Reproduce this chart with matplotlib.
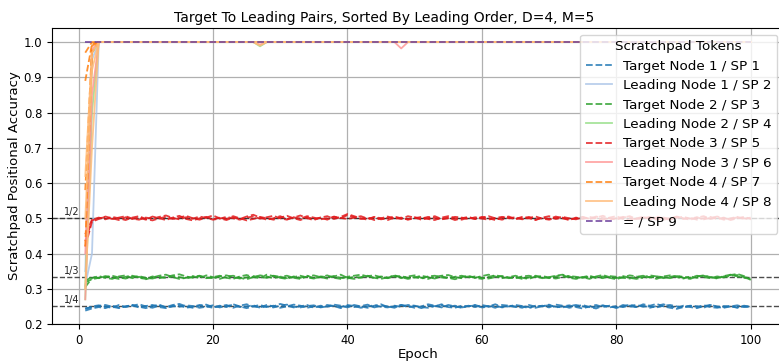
import numpy as np
import matplotlib
matplotlib.use("Agg")
import matplotlib.pyplot as plt

title = "Target To Leading Pairs, Sorted By Leading Order, D=4, M=5"
legend_title = "Scratchpad Tokens"
labels = ["Target Node 1 / SP 1", "Leading Node 1 / SP 2", "Target Node 2 / SP 3",
          "Leading Node 2 / SP 4", "Target Node 3 / SP 5", "Leading Node 3 / SP 6",
          "Target Node 4 / SP 7", "Leading Node 4 / SP 8", "= / SP 9"]
colors = ["#1f77b4", "#aec7e8", "#2ca02c", "#98df8a", "#e31a1c", "#ff9896",
          "#ff7f0e", "#ffbb78", "#6a3d9a"]
styles = ["--", "-", "--", "-", "--", "-", "--", "-", "--"]
ref_levels = [0.25, 1/3, 0.5]
ref_labels = ["1/4", "1/3", "1/2"]

blue_a = [0.238, 0.244, 0.248, 0.245, 0.252, 0.247, 0.250, 0.254, 0.249, 0.245,
          0.251, 0.255, 0.247, 0.250, 0.253, 0.246, 0.249, 0.254, 0.250, 0.246,
          0.252, 0.248, 0.256, 0.250, 0.245, 0.250, 0.254, 0.248, 0.252, 0.246,
          0.250, 0.255, 0.252, 0.246, 0.250, 0.248, 0.254, 0.251, 0.245, 0.252,
          0.248, 0.251, 0.255, 0.247, 0.252, 0.250, 0.246, 0.254, 0.248, 0.251,
          0.245, 0.252, 0.250, 0.256, 0.248, 0.246, 0.252, 0.250, 0.254, 0.248,
          0.251, 0.246, 0.254, 0.252, 0.248, 0.250, 0.245, 0.252, 0.250, 0.255,
          0.247, 0.250, 0.253, 0.248, 0.244, 0.250, 0.254, 0.248, 0.252, 0.246,
          0.250, 0.255, 0.248, 0.252, 0.246, 0.251, 0.256, 0.250, 0.246, 0.252,
          0.248, 0.245, 0.251, 0.254, 0.248, 0.246, 0.250, 0.253, 0.248, 0.250]
blue_b = [0.242, 0.250, 0.253, 0.249, 0.246, 0.254, 0.248, 0.252, 0.256, 0.250,
          0.246, 0.252, 0.248, 0.254, 0.257, 0.250, 0.246, 0.252, 0.255, 0.248,
          0.250, 0.254, 0.246, 0.252, 0.256, 0.250, 0.247, 0.254, 0.250, 0.257,
          0.252, 0.247, 0.250, 0.254, 0.246, 0.252, 0.249, 0.255, 0.252, 0.247,
          0.254, 0.250, 0.246, 0.252, 0.256, 0.248, 0.250, 0.254, 0.251, 0.246,
          0.250, 0.256, 0.252, 0.247, 0.254, 0.250, 0.246, 0.252, 0.248, 0.254,
          0.250, 0.256, 0.248, 0.252, 0.250, 0.246, 0.254, 0.249, 0.252, 0.247,
          0.255, 0.252, 0.246, 0.250, 0.254, 0.248, 0.244, 0.252, 0.250, 0.246,
          0.254, 0.250, 0.248, 0.256, 0.252, 0.257, 0.250, 0.246, 0.243, 0.248,
          0.252, 0.250, 0.246, 0.254, 0.250, 0.248, 0.252, 0.246, 0.250, 0.248]
blue_c = [0.245, 0.247, 0.251, 0.254, 0.249, 0.245, 0.250, 0.253, 0.247, 0.251,
          0.254, 0.248, 0.245, 0.251, 0.249, 0.253, 0.251, 0.246, 0.249, 0.253,
          0.247, 0.251, 0.254, 0.248, 0.250, 0.253, 0.246, 0.250, 0.247, 0.252,
          0.255, 0.249, 0.247, 0.251, 0.253, 0.247, 0.250, 0.252, 0.248, 0.254,
          0.251, 0.246, 0.250, 0.253, 0.249, 0.247, 0.252, 0.249, 0.254, 0.252,
          0.248, 0.246, 0.251, 0.253, 0.249, 0.252, 0.247, 0.250, 0.253, 0.247,
          0.249, 0.252, 0.247, 0.250, 0.254, 0.251, 0.248, 0.246, 0.251, 0.253,
          0.249, 0.247, 0.251, 0.254, 0.250, 0.247, 0.249, 0.253, 0.247, 0.251,
          0.248, 0.252, 0.254, 0.249, 0.250, 0.247, 0.252, 0.254, 0.250, 0.247,
          0.251, 0.249, 0.253, 0.248, 0.246, 0.251, 0.249, 0.247, 0.252, 0.249]
green_a = [0.305, 0.330, 0.336, 0.331, 0.328, 0.335, 0.338, 0.330, 0.334, 0.327,
           0.332, 0.337, 0.340, 0.333, 0.328, 0.331, 0.336, 0.330, 0.338, 0.333,
           0.328, 0.334, 0.337, 0.331, 0.327, 0.333, 0.338, 0.335, 0.330, 0.334,
           0.337, 0.331, 0.328, 0.335, 0.338, 0.333, 0.329, 0.335, 0.340, 0.331,
           0.328, 0.333, 0.337, 0.330, 0.335, 0.331, 0.338, 0.333, 0.328, 0.332,
           0.337, 0.333, 0.329, 0.335, 0.331, 0.327, 0.333, 0.337, 0.331, 0.328,
           0.334, 0.338, 0.335, 0.330, 0.333, 0.328, 0.332, 0.337, 0.333, 0.330,
           0.335, 0.339, 0.331, 0.328, 0.333, 0.337, 0.330, 0.335, 0.331, 0.327,
           0.333, 0.338, 0.335, 0.330, 0.334, 0.328, 0.335, 0.338, 0.333, 0.329,
           0.335, 0.331, 0.337, 0.333, 0.329, 0.335, 0.339, 0.342, 0.336, 0.325]
green_b = [0.318, 0.327, 0.331, 0.336, 0.332, 0.328, 0.334, 0.337, 0.331, 0.328,
           0.335, 0.330, 0.333, 0.338, 0.341, 0.335, 0.331, 0.336, 0.330, 0.333,
           0.337, 0.331, 0.328, 0.335, 0.339, 0.333, 0.330, 0.340, 0.336, 0.331,
           0.328, 0.335, 0.331, 0.337, 0.330, 0.333, 0.338, 0.331, 0.328, 0.334,
           0.337, 0.340, 0.335, 0.331, 0.328, 0.333, 0.337, 0.330, 0.335, 0.338,
           0.331, 0.328, 0.334, 0.337, 0.339, 0.333, 0.330, 0.335, 0.331, 0.336,
           0.340, 0.335, 0.330, 0.333, 0.337, 0.331, 0.328, 0.335, 0.330, 0.333,
           0.337, 0.340, 0.335, 0.330, 0.333, 0.328, 0.335, 0.339, 0.333, 0.330,
           0.336, 0.331, 0.328, 0.333, 0.338, 0.335, 0.330, 0.334, 0.337, 0.331,
           0.328, 0.335, 0.338, 0.333, 0.330, 0.336, 0.340, 0.335, 0.331, 0.328]
green_c = [0.322, 0.334, 0.330, 0.333, 0.337, 0.332, 0.329, 0.334, 0.336, 0.331,
           0.329, 0.334, 0.331, 0.335, 0.333, 0.329, 0.334, 0.337, 0.332, 0.330,
           0.335, 0.338, 0.333, 0.329, 0.332, 0.336, 0.333, 0.331, 0.337, 0.334,
           0.330, 0.333, 0.337, 0.332, 0.329, 0.335, 0.333, 0.336, 0.331, 0.329,
           0.334, 0.331, 0.336, 0.338, 0.333, 0.330, 0.334, 0.336, 0.331, 0.333,
           0.329, 0.335, 0.337, 0.332, 0.330, 0.334, 0.337, 0.332, 0.335, 0.331,
           0.329, 0.333, 0.336, 0.332, 0.330, 0.335, 0.337, 0.333, 0.336, 0.332,
           0.329, 0.333, 0.336, 0.334, 0.331, 0.335, 0.333, 0.330, 0.336, 0.334,
           0.331, 0.329, 0.334, 0.337, 0.332, 0.335, 0.333, 0.330, 0.336, 0.334,
           0.331, 0.337, 0.333, 0.330, 0.335, 0.332, 0.337, 0.339, 0.333, 0.330]
red_a = [0.420, 0.490, 0.498, 0.505, 0.500, 0.495, 0.503, 0.498, 0.502, 0.496,
         0.505, 0.500, 0.495, 0.502, 0.507, 0.498, 0.494, 0.500, 0.504, 0.497,
         0.502, 0.498, 0.506, 0.500, 0.494, 0.498, 0.504, 0.500, 0.496, 0.502,
         0.507, 0.500, 0.495, 0.503, 0.498, 0.502, 0.496, 0.505, 0.500, 0.509,
         0.503, 0.498, 0.502, 0.495, 0.500, 0.505, 0.498, 0.502, 0.496, 0.500,
         0.504, 0.498, 0.495, 0.502, 0.506, 0.500, 0.496, 0.502, 0.498, 0.504,
         0.500, 0.495, 0.502, 0.505, 0.498, 0.500, 0.504, 0.496, 0.502, 0.498,
         0.505, 0.500, 0.495, 0.502, 0.498, 0.504, 0.500, 0.496, 0.502, 0.506,
         0.498, 0.494, 0.500, 0.504, 0.498, 0.502, 0.496, 0.500, 0.505, 0.498,
         0.502, 0.496, 0.500, 0.504, 0.498, 0.502, 0.495, 0.500, 0.504, 0.498]
red_b = [0.455, 0.496, 0.502, 0.497, 0.504, 0.500, 0.495, 0.502, 0.506, 0.498,
         0.494, 0.500, 0.504, 0.498, 0.502, 0.507, 0.500, 0.496, 0.502, 0.508,
         0.500, 0.495, 0.502, 0.498, 0.505, 0.510, 0.502, 0.496, 0.500, 0.506,
         0.498, 0.502, 0.508, 0.500, 0.495, 0.502, 0.506, 0.498, 0.504, 0.512,
         0.506, 0.500, 0.496, 0.504, 0.500, 0.495, 0.502, 0.498, 0.506, 0.502,
         0.496, 0.500, 0.506, 0.498, 0.502, 0.495, 0.500, 0.504, 0.498, 0.502,
         0.506, 0.500, 0.496, 0.502, 0.498, 0.504, 0.500, 0.495, 0.502, 0.506,
         0.498, 0.502, 0.496, 0.500, 0.504, 0.498, 0.502, 0.507, 0.500, 0.496,
         0.502, 0.506, 0.498, 0.500, 0.504, 0.496, 0.502, 0.498, 0.504, 0.500,
         0.496, 0.502, 0.506, 0.498, 0.502, 0.496, 0.500, 0.504, 0.498, 0.502]
red_c = [0.435, 0.494, 0.500, 0.503, 0.498, 0.502, 0.506, 0.499, 0.496, 0.502,
         0.499, 0.504, 0.508, 0.501, 0.497, 0.503, 0.499, 0.505, 0.501, 0.496,
         0.499, 0.504, 0.500, 0.496, 0.502, 0.505, 0.499, 0.503, 0.507, 0.500,
         0.496, 0.503, 0.499, 0.506, 0.502, 0.497, 0.500, 0.504, 0.501, 0.498,
         0.502, 0.506, 0.499, 0.503, 0.497, 0.501, 0.505, 0.500, 0.497, 0.503,
         0.499, 0.504, 0.501, 0.497, 0.500, 0.504, 0.502, 0.498, 0.503, 0.499,
         0.496, 0.501, 0.504, 0.500, 0.503, 0.497, 0.501, 0.505, 0.499, 0.496,
         0.501, 0.504, 0.500, 0.497, 0.503, 0.499, 0.505, 0.501, 0.497, 0.500,
         0.504, 0.501, 0.497, 0.503, 0.499, 0.505, 0.500, 0.496, 0.502, 0.504,
         0.499, 0.503, 0.497, 0.501, 0.505, 0.500, 0.497, 0.503, 0.500, 0.497]

# runs that converge to 1.0: early values, then 1.0 (with a few small dips)
lead1_a = [0.31, 0.40] + [1.0] * 98
lead1_b = [0.35, 0.95] + [1.0] * 98
lead2_a = [0.27, 0.80] + [1.0] * 24 + [0.988] + [1.0] * 73
lead2_b = [0.30, 0.97] + [1.0] * 98
lead3_a = [0.27, 0.85] + [1.0] * 45 + [0.982] + [1.0] * 52
lead3_b = [0.40, 0.98] + [1.0] * 24 + [0.993] + [1.0] * 73
targ4_a = [0.97, 1.0] + [1.0] * 98
targ4_b = [0.89, 0.995] + [1.0] * 98
targ4_c = [0.58, 0.99] + [1.0] * 98
targ4_d = [0.42, 0.97] + [1.0] * 98
lead4_a = [0.30, 0.70] + [1.0] * 24 + [0.990] + [1.0] * 73
lead4_b = [0.50, 0.92] + [1.0] * 98
lead4_c = [0.62, 0.97] + [1.0] * 98
equal_a = [1.0] * 100

groups = [[blue_a, blue_b, blue_c], [lead1_a, lead1_b], [green_a, green_b, green_c],
          [lead2_a, lead2_b], [red_a, red_b, red_c], [lead3_a, lead3_b],
          [targ4_a, targ4_b, targ4_c, targ4_d], [lead4_a, lead4_b, lead4_c], [equal_a]]

W, H = 779, 361
fig = plt.figure(figsize=(W / 100, H / 100), dpi=100)
ax = fig.add_axes([52 / W, 37 / H, (784 - 52) / W, 296 / H])

for runs, lab, col, ls in zip(groups, labels, colors, styles):
    for i, r in enumerate(runs):
        ep = np.arange(1, len(r) + 1)
        ax.plot(ep, r, ls=ls, color=col, lw=1.3, alpha=0.85,
                label=lab if i == 0 else None)

for lv, lt in zip(ref_levels, ref_labels):
    ax.axhline(lv, color="black", ls="--", lw=1.0, alpha=0.7, zorder=1)
    ax.text(-2.1, lv + 0.004, lt, fontsize=7, color="#222222", va="bottom", ha="left")

ax.set_xlim(-3.95, 104.95)
ax.set_ylim(0.2, 1.04)
ax.set_xticks([0, 20, 40, 60, 80, 100])
ax.set_yticks(np.arange(0.2, 1.01, 0.1))
ax.tick_params(labelsize=8.4)
ax.grid(True, color="#b0b0b0", lw=0.9)
ax.set_axisbelow(True)
ax.set_xlabel("Epoch", fontsize=9.5, labelpad=1)
ax.set_ylabel("Scratchpad Positional Accuracy", fontsize=9.5, labelpad=2)
ax.set_title(title, fontsize=10, x=(384 - 52) / (784 - 52), pad=4)
ax.legend(title=legend_title, loc="upper right", fontsize=9.7, title_fontsize=9.7,
          labelspacing=0.48, framealpha=0.8)

fig.savefig("out.png", dpi=100)
